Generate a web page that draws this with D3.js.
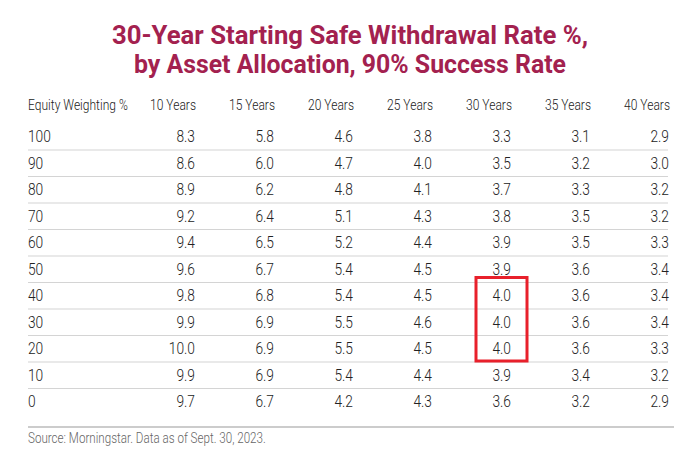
<!DOCTYPE html>
<html>
<head>
<meta charset="utf-8">
<script src="https://cdn.jsdelivr.net/npm/d3@7"></script>
<style>
  body { margin: 0; background: #fff; }
  svg text { font-family: Roboto, "Noto Sans", "DejaVu Sans Condensed", sans-serif; }
</style>
</head>
<body>
<div id="chart"></div>
<script>
// table data
var titleLines = ["30-Year Starting Safe Withdrawal Rate %,", "by Asset Allocation, 90% Success Rate"];
var firstHeader = "Equity Weighting %";
var horizons = ["10 Years", "15 Years", "20 Years", "25 Years", "30 Years", "35 Years", "40 Years"];
var equityWeights = ["100", "90", "80", "70", "60", "50", "40", "30", "20", "10", "0"];
var rates10 = [8.3, 8.6, 8.9, 9.2, 9.4, 9.6, 9.8, 9.9, 10.0, 9.9, 9.7];
var rates15 = [5.8, 6.0, 6.2, 6.4, 6.5, 6.7, 6.8, 6.9, 6.9, 6.9, 6.7];
var rates20 = [4.6, 4.7, 4.8, 5.1, 5.2, 5.4, 5.4, 5.5, 5.5, 5.4, 4.2];
var rates25 = [3.8, 4.0, 4.1, 4.3, 4.4, 4.5, 4.5, 4.6, 4.5, 4.4, 4.3];
var rates30 = [3.3, 3.5, 3.7, 3.8, 3.9, 3.9, 4.0, 4.0, 4.0, 3.9, 3.6];
var rates35 = [3.1, 3.2, 3.3, 3.5, 3.5, 3.6, 3.6, 3.6, 3.6, 3.4, 3.2];
var rates40 = [2.9, 3.0, 3.2, 3.2, 3.3, 3.4, 3.4, 3.4, 3.3, 3.2, 2.9];
var highlightCol = "30 Years";
var highlightRows = ["40", "30", "20"];
var sourceNote = "Source: Morningstar. Data as of Sept. 30, 2023.";

var allRates = [rates10, rates15, rates20, rates25, rates30, rates35, rates40];

var W = 700, H = 458;
var svg = d3.select("#chart").append("svg")
  .attr("width", W).attr("height", H);

var left = 28, lineRight = 668;
var squeeze = 0.86; // condensed look

// columns: right edges of the numeric columns
var xCol = d3.scalePoint()
  .domain(horizons)
  .range([195, 669]);

var yRow = d3.scaleBand()
  .domain(equityWeights)
  .range([123.5, 415])
  .padding(0);

function squeezedText(g, x, y, txt, anchor, size, weight, fill, sx) {
  return g.append("text")
    .attr("transform", "translate(" + x + "," + y + ") scale(" + sx + ",1)")
    .attr("text-anchor", anchor)
    .attr("dominant-baseline", "central")
    .style("font-size", size + "px")
    .style("font-weight", weight)
    .attr("fill", fill)
    .text(txt);
}

// title
titleLines.forEach(function(t, i) {
  svg.append("text")
    .attr("x", W / 2)
    .attr("y", 43.5 + i * 29.5)
    .attr("text-anchor", "middle")
    .attr("textLength", i == 0 ? 476 : 432)
    .attr("lengthAdjust", "spacingAndGlyphs")
    .style("font-size", "25px")
    .style("font-weight", 700)
    .attr("fill", "#a3214f")
    .text(t);
});

// header
var head = svg.append("g");
squeezedText(head, left, 105, firstHeader, "start", 14, 300, "#222", squeeze);
horizons.forEach(function(h) {
  squeezedText(head, xCol(h) + 1, 105, h, "end", 14, 300, "#222", squeeze);
});

// row separators
svg.append("g").selectAll("line")
  .data(equityWeights.slice(1))
  .enter().append("line")
  .attr("x1", left).attr("x2", lineRight)
  .attr("y1", function(d) { return yRow(d); })
  .attr("y2", function(d) { return yRow(d); })
  .attr("stroke", "#d4d4d4")
  .attr("stroke-width", 1.2);

// bottom rule
svg.append("line")
  .attr("x1", left).attr("x2", 674)
  .attr("y1", 427).attr("y2", 427)
  .attr("stroke", "#999")
  .attr("stroke-width", 1);

// body
var rows = svg.append("g").selectAll("g")
  .data(equityWeights)
  .enter().append("g");

rows.each(function(w, i) {
  var g = d3.select(this);
  var cy = yRow(w) + yRow.bandwidth() / 2;
  squeezedText(g, left, cy, w, "start", 16, 300, "#222", squeeze);
  horizons.forEach(function(h, j) {
    squeezedText(g, xCol(h), cy, allRates[j][i].toFixed(1), "end", 16, 300, "#222", squeeze);
  });
});

// highlight box round the 30-year cells
svg.append("rect")
  .attr("x", xCol(highlightCol) - 35)
  .attr("y", yRow(highlightRows[0]) - 5)
  .attr("width", 51)
  .attr("height", yRow(highlightRows[highlightRows.length - 1]) + yRow.bandwidth() - yRow(highlightRows[0]) + 4)
  .attr("fill", "none")
  .attr("stroke", "#e8202b")
  .attr("stroke-width", 3);

// source
squeezedText(svg, left, 438, sourceNote, "start", 14, 300, "#666", 0.83);
</script>
</body>
</html>
